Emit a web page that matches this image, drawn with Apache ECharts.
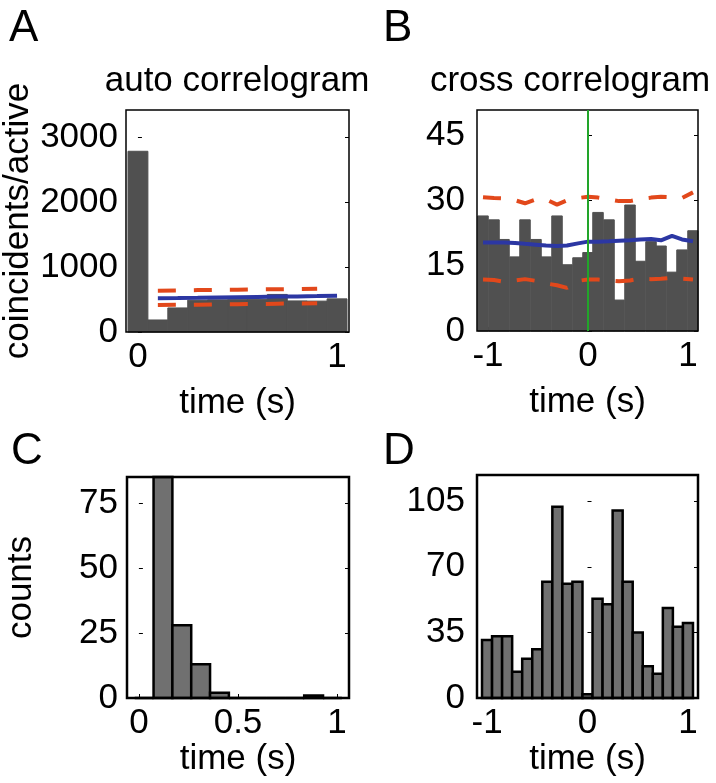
<!DOCTYPE html>
<html lang="en">
<head>
  <meta charset="UTF-8">
  <title>auto / cross correlograms</title>
  <style>
    html, body { margin: 0; padding: 0; background: #fff; }
    #main { width: 716px; height: 783px; }
  </style>
  <script src="https://cdn.jsdelivr.net/npm/echarts@6/dist/echarts.min.js"></script>
</head>
<body>
  <div id="main"></div>
  <script>
    // A: auto correlogram, bins of 0.1 s
    const autoTime = [0, 0.1, 0.2, 0.3, 0.4, 0.5, 0.6, 0.7, 0.8, 0.9, 1.0];
    const autoCounts = [2780, 185, 370, 490, 495, 498, 505, 578, 478, 475, 510];
    const autoMeanTime = [0.1, 0.2, 0.3, 0.4, 0.5, 0.6, 0.7, 0.8, 0.9, 1.0];
    const autoMean = [520, 522, 525, 530, 535, 540, 545, 548, 552, 557];
    const autoBandTime = [0.1, 0.2, 0.3, 0.4, 0.5, 0.6, 0.7, 0.8, 0.9];
    const autoUpper = [636, 640, 645, 648, 650, 655, 658, 660, 665];
    const autoLower = [415, 418, 420, 425, 428, 430, 435, 440, 441];

    // B: cross correlogram, 21 bins over -1.1..1.1
    const crossTime = [-1.05, -0.94, -0.84, -0.73, -0.63, -0.52, -0.42, -0.31, -0.21, -0.10, 0,
      0.10, 0.21, 0.31, 0.42, 0.52, 0.63, 0.73, 0.84, 0.94, 1.05];
    const crossCounts = [26.4, 25.5, 21, 17, 25.5, 21, 17, 26.4, 15.2, 16.8, 18,
      27.2, 25.5, 7.1, 28.9, 16, 20.5, 19.5, 13.5, 18.6, 23];
    const crossMean = [20.3, 20.3, 20.3, 20.2, 20.0, 19.8, 19.6, 19.5, 19.6, 20.1, 20.5,
      20.5, 20.6, 20.7, 20.8, 21.0, 21.1, 20.8, 21.8, 21.0, 20.6];
    const crossUpper = [30.7, 30.5, 30.4, 30.0, 29.3, 30.2, 30.2, 29.0, 30.0, 30.5, 30.8,
      30.6, 30.2, 29.8, 29.8, 30.3, 30.6, 30.8, 30.7, 30.5, 31.8];
    const crossLower = [11.8, 11.7, 11.3, 11.6, 11.9, 11.5, 10.9, 10.5, 9.9, 11.5, 11.8,
      11.8, 11.6, 11.4, 11.6, 12.0, 11.9, 12.0, 12.2, 12.0, 11.8];

    // C: histogram of times
    const histTime = [0.0265, 0.1215, 0.2165, 0.3115, 0.4065, 0.5015, 0.5965, 0.6915, 0.7865, 0.8815, 0.9765];
    const histCounts = [0, 85, 28, 13, 2, 0, 0, 0, 0, 1, 0];

    // D: histogram of lags
    const lagTime = [-1.0, -0.9, -0.8, -0.7, -0.6, -0.5, -0.4, -0.3, -0.2, -0.1, 0,
      0.1, 0.2, 0.3, 0.4, 0.5, 0.6, 0.7, 0.8, 0.9, 1.0];
    const lagCounts = [31, 33, 33, 14, 21, 26, 62, 102, 61, 62, 2,
      53, 50, 100, 62, 35, 17, 13, 48, 38, 40];

    const FONT = '"Liberation Sans", Arial, sans-serif';
    const RED = '#e2481b';
    const BLUE = '#2c37a3';

    const chart = echarts.init(document.getElementById('main'));

    function zip(xs, ys) { return xs.map((x, i) => [x, ys[i]]); }

    // rectangles from bin center +- half width, through the axes' scales
    function hist(idx, xs, ys, width, style) {
      return {
        type: 'custom',
        xAxisIndex: idx,
        yAxisIndex: idx * 2,
        z: 2,
        silent: true,
        data: zip(xs, ys),
        encode: { x: 0, y: 1 },
        renderItem: function (params, api) {
          const x = api.value(0), v = api.value(1);
          const p0 = api.coord([x - width / 2, v]);
          const p1 = api.coord([x + width / 2, 0]);
          const cs = params.coordSys;
          const r = echarts.graphic.clipRectByRect(
            { x: p0[0], y: p0[1], width: p1[0] - p0[0], height: p1[1] - p0[1] },
            { x: cs.x, y: cs.y, width: cs.width, height: cs.height });
          return r && { type: 'rect', shape: r, style: style };
        }
      };
    }

    function line(idx, data, color, dash, width) {
      return {
        type: 'line', xAxisIndex: idx, yAxisIndex: idx * 2, z: 3,
        data: data, symbol: 'none', silent: true, smooth: false,
        lineStyle: { color: color, width: width || 4, type: dash || 'solid' }
      };
    }

    function frame(pos, bw) {
      return Object.assign({ show: true, z: 5, borderColor: '#000', borderWidth: bw,
        backgroundColor: 'transparent', containLabel: false }, pos);
    }

    const labelStyle = { fontSize: 35, color: '#000', fontFamily: FONT,
      formatter: function (v) { return String(v); } };

    function xAxis(gi, min, max, labels, ticks, name, gap) {
      return {
        type: 'value', gridIndex: gi, min: min, max: max,
        axisLine: { show: false }, splitLine: { show: false },
        axisTick: { show: true, inside: true, length: 4, customValues: ticks,
          lineStyle: { color: '#000', width: 1 } },
        axisLabel: Object.assign({ customValues: labels, margin: 8 }, labelStyle),
        name: name, nameLocation: 'middle', nameGap: gap,
        nameTextStyle: { fontSize: 35, color: '#000', fontFamily: FONT }
      };
    }

    function yAxes(gi, max, ticks, name, gap, margin) {
      return [{
        type: 'value', gridIndex: gi, min: 0, max: max,
        axisLine: { show: false }, splitLine: { show: false },
        axisTick: { show: true, inside: true, length: 4, customValues: ticks,
          lineStyle: { color: '#000', width: 1 } },
        axisLabel: Object.assign({ customValues: ticks, margin: margin }, labelStyle),
        name: name, nameLocation: 'middle', nameGap: gap,
        nameTextStyle: { fontSize: 35, color: '#000', fontFamily: FONT }
      }, {
        type: 'value', gridIndex: gi, min: 0, max: max, position: 'right',
        axisLine: { show: false }, splitLine: { show: false }, axisLabel: { show: false },
        axisTick: { show: true, inside: true, length: 4, customValues: ticks,
          lineStyle: { color: '#000', width: 1 } }
      }];
    }

    function txt(t, x, y, size, align) {
      return { type: 'text', x: x, y: y, silent: true,
        style: { text: t, fontSize: size, fontFamily: FONT, fill: '#000',
          align: align || 'left', verticalAlign: 'middle' } };
    }

    const solidGray = { fill: '#505050', stroke: '#505050', lineWidth: 1 };
    const boxGray = { fill: '#707070', stroke: '#000', lineWidth: 2.5 };

    const option = {
      animation: false,
      backgroundColor: '#fff',
      grid: [
        frame({ left: 126, top: 110, width: 223, height: 222 }, 1.5),
        frame({ left: 477, top: 110, width: 221, height: 221 }, 1.5),
        frame({ left: 127, top: 477, width: 222, height: 221 }, 2.5),
        frame({ left: 477, top: 475, width: 221, height: 223 }, 2.5)
      ],
      xAxis: [
        xAxis(0, -0.06, 1.06, [0, 1], [0, 1], 'time (s)', 54),
        xAxis(1, -1.11, 1.1, [-1, 0, 1], [-1, 0, 1], 'time (s)', 54),
        xAxis(2, -0.06, 1.06, [0, 0.5, 1], [0, 0.5, 1], 'time (s)', 40),
        xAxis(3, -1.1, 1.1, [-1, 0, 1], [-1, -0.5, 0, 0.5, 1], 'time (s)', 40)
      ],
      yAxis: [].concat(
        yAxes(0, 3415, [0, 1000, 2000, 3000], 'coincidents/active', 84, 8),
        yAxes(1, 50.7, [0, 15, 30, 45], '', 0, 12),
        yAxes(2, 85, [0, 25, 50, 75], 'counts', 88, 9),
        yAxes(3, 119, [0, 35, 70, 105], '', 0, 12)
      ),
      series: [
        hist(0, autoTime, autoCounts, 0.1, solidGray),
        line(0, zip(autoBandTime, autoUpper), RED, [18, 18]),
        line(0, zip(autoBandTime, autoLower), RED, [18, 18]),
        line(0, zip(autoMeanTime, autoMean), BLUE),

        hist(1, crossTime, crossCounts, 0.105, solidGray),
        Object.assign(line(1, zip(crossTime, crossUpper), RED, [18, 16]), {
          markLine: { silent: true, symbol: 'none', label: { show: false },
            lineStyle: { color: '#22a52a', width: 2, type: 'solid' },
            data: [{ xAxis: 0 }] }
        }),
        line(1, zip(crossTime, crossLower), RED, [18, 16]),
        line(1, zip(crossTime, crossMean), BLUE),

        hist(2, histTime, histCounts, 0.095, boxGray),
        hist(3, lagTime, lagCounts, 0.1, boxGray)
      ],
      graphic: [
        txt('A', 9, 29, 44),
        txt('B', 383, 29, 44),
        txt('C', 11, 452, 44),
        txt('D', 383, 452, 44),
        txt('auto correlogram', 237, 81, 35, 'center'),
        txt('cross correlogram', 570, 81, 35, 'center')
      ]
    };

    chart.setOption(option);
  </script>
</body>
</html>
